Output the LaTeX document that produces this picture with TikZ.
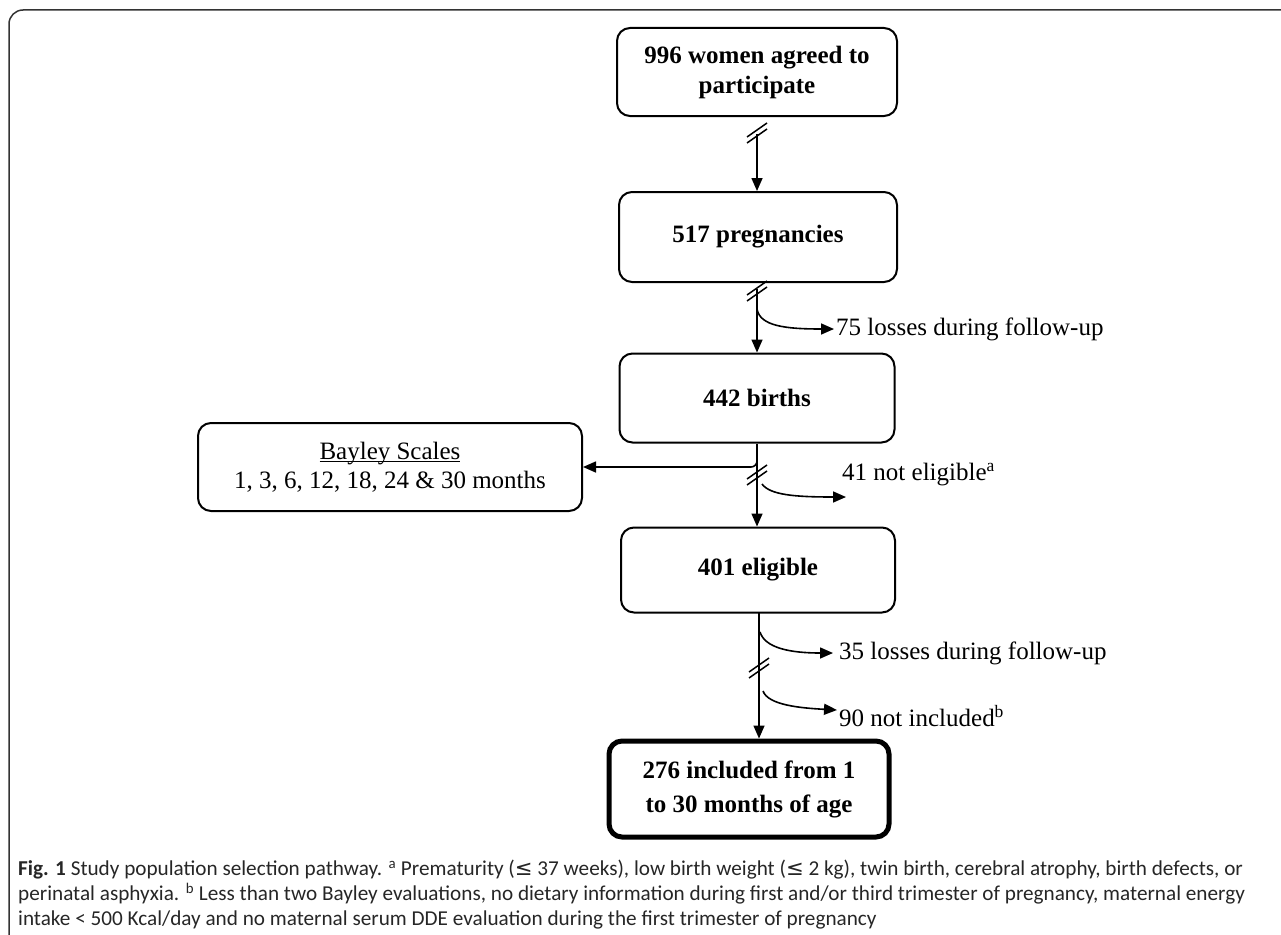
\documentclass[tikz,border=0pt]{standalone}
\usepackage{fontspec}
\setmainfont{Liberation Serif}
\newfontfamily\capfont{Carlito}
\newfontfamily\symf{DejaVu Sans}
\usetikzlibrary{arrows.meta}
\newcommand\myuline[1]{\setbox0\hbox{#1}\rlap{\rule[-2.6pt]{\wd0}{1.1pt}}\box0}
\tikzset{
  box/.style={draw, line width=2pt, rounded corners=13pt, align=center,
    font=\fontsize{25}{30}\selectfont\bfseries, inner sep=0pt},
  arr/.style={-{Triangle[length=13pt,width=11pt]}, line width=1.6pt},
  lbl/.style={font=\fontsize{25}{30}\selectfont, anchor=west, inner sep=0pt},
  brkmark/.pic={
    \draw[line width=1.5pt] (-10,3) -- (10,-11);
    \draw[line width=1.5pt] (-10,9) -- (10,-5);
  }
}
\begin{document}
\begin{tikzpicture}[x=1pt,y=-1pt]
\useasboundingbox (0,0) rectangle (1281,934);
\draw[line width=1.5pt, rounded corners=14pt, black!80] (9,945) -- (9,10) -- (1295,10);

% boxes
\node[box, minimum width=280pt, minimum height=88pt] (b1) at (757,72) {996 women agreed to\\participate};
\node[box, minimum width=278pt, minimum height=90pt] (b2) at (758,237) {517 pregnancies};
\node[box, minimum width=275pt, minimum height=89pt] (b3) at (757,398) {442 births};
\node[box, minimum width=274pt, minimum height=85pt] (b4) at (758,570) {401 eligible};
\node[box, line width=5pt, minimum width=280pt, minimum height=96pt,
      font=\fontsize{25}{34}\selectfont\bfseries] (b5) at (749,789) {276 included from 1\\to 30 months of age};
\node[box, font=\fontsize{25}{29}\selectfont, minimum width=384pt, minimum height=88pt] (bay) at (390,467)
  {\myuline{Bayley Scales}\\1, 3, 6, 12, 18, 24 \& 30 months};

% labels
\node[lbl] (l75) at (836,329) {75 losses during follow-up};
\node[lbl] (l41) at (842,475) {41 not eligible\textsuperscript{a}};
\node[lbl] (l35) at (839,653) {35 losses during follow-up};
\node[lbl] (l90) at (839,716) {90 not included\textsuperscript{b}};

% 1 -> 2
\coordinate (s1) at (757,134);
\pic at (s1) {brkmark};
\draw[arr] (s1) -- (s1 |- b2.north);

% 2 -> 3
\coordinate (s2) at (757,289);
\pic at (757,292) {brkmark};
\draw[arr] (s2) -- (s2 |- b3.north);
\coordinate (c2) at (757,309);
\draw[arr] (c2) .. controls (760,326) and (785,329) .. ([xshift=-2pt]l75.west);

% 3 -> 4
\draw[arr] (b3.south) -- (b3.south |- b4.north);
\pic at (757,476) {brkmark};
\coordinate (c3) at (762,484);
\coordinate (e41) at (846,497);
\draw[arr] (c3) .. controls (770,495) and (795,497) .. (e41);
\coordinate (jb) at (757,458);
\draw[arr, rounded corners=6pt] (jb) |- (bay.east);

% 4 -> 5
\coordinate (s4) at (759,612);
\draw[arr] (s4) -- (s4 |- b5.north);
\pic at (759,669) {brkmark};
\coordinate (c4) at (760,632);
\draw[arr] (c4) .. controls (765,648) and (790,653) .. ([xshift=-6pt]l35.west);
\coordinate (c5) at (763,691);
\coordinate (e90) at (837,710);
\draw[arr] (c5) .. controls (768,705) and (800,708) .. (e90);

% caption
\node[anchor=north west, inner sep=0pt, align=left, black!85,
      font=\capfont\fontsize{21.2}{25}\selectfont] (cap) at (18,860)
{\textbf{Fig. 1} Study population selection pathway. \textsuperscript{a} Prematurity ({\symf ≤} 37 weeks), low birth weight ({\symf ≤} 2 kg), twin birth, cerebral atrophy, birth defects, or\\
perinatal asphyxia. \textsuperscript{b} Less than two Bayley evaluations, no dietary information during first and/or third trimester of pregnancy, maternal energy\\
intake {<} 500 Kcal/day and no maternal serum DDE evaluation during the first trimester of pregnancy};
\end{tikzpicture}
\end{document}
